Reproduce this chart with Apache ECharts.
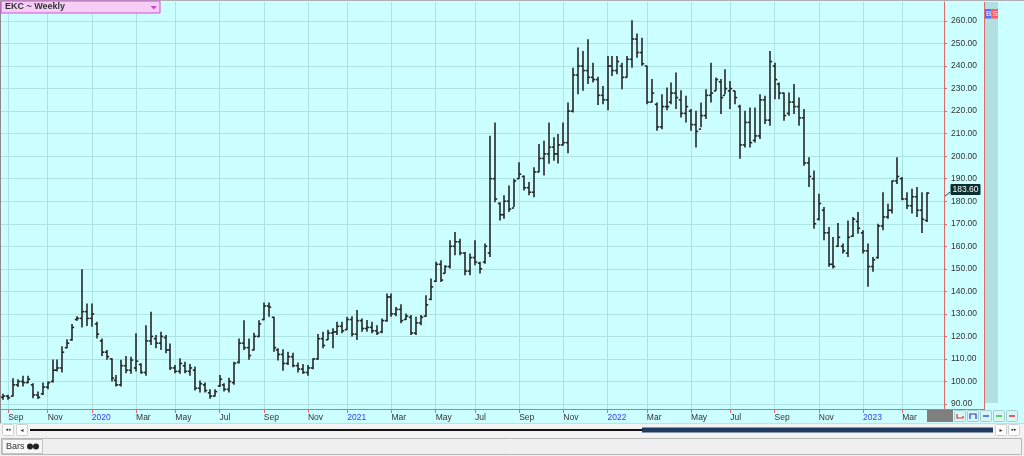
<!DOCTYPE html>
<html><head><meta charset="utf-8">
<script src="https://cdn.jsdelivr.net/npm/echarts@6/dist/echarts.min.js"></script>
<style>html,body{margin:0;padding:0;background:#fff}#c{width:1024px;height:456px}</style>
</head><body><div id="c"></div>
<script>
// Weekly OHLC bars, first bar = week ending 2019-08-30
const firstWeekUTC = [2019, 7, 30];
const emptyWeeksAfter = 3;
const opens = [
  93.0,93.5,93.5,98.5,100.0,99.5,98.5,94.0,94.5,97.5,
  100,105,106,115,118.5,127.5,128,131,128,125.5,
  118,113,110,100.5,98.5,107,105,106,107.5,104,
  118,119,117,119.5,114,106,104.5,107,104.5,105,
  97,98.5,95,93.5,98,98.5,96.5,99.5,108.5,117,
  115,114,120,127.5,133.5,128.5,114,112,108,111,
  107,105.5,104,106,110,119,118.5,121.5,122,124.5,
  123,127.5,121,127,123.5,124,122.5,122,127,137.5,
  130,132,127.5,128.5,121.5,126,129,136.5,144.5,152,
  148,151,160,162,157,149,155,152.5,153,157,
  190,179,174,180,177,190,191,186,184,193,
  199,201,204,201,205,206,220,236,240,238,
  235,234,227,225,240,238,240,235,243,252,
  246,240,224,223,213,222,224,228,225,219,
  220,214,212,218,227,229,233,227,229,229,
  222,205,215,207,209,225,216,240,232,228,
  219,224,222,217,197,190,172,176,166,152,
  160,160,157,164.5,171,166,158,151,155,169,
  173,176,189,190,181,178,182,176,171.5
];
const highs = [
  94.5,94.1,101.4,101.0,102.5,102.5,99.2,95.5,99.5,100.0,
  109.8,109.8,115.6,118.7,125.5,129.0,149.8,134.6,134.6,126.5,
  119.1,114.0,110.3,102.9,109.6,111.3,111.0,121.4,108.1,125.0,
  130.9,120.6,122.1,120.6,116.9,107.3,110.3,108.8,107.8,106.6,
  100.4,99.5,96.6,96.6,102.9,99.2,101.7,108.8,119.1,127.2,
  119.1,121.6,127.2,135.1,135.1,128.7,114.7,114.3,113.2,112.8,
  108.4,107.8,107.3,110.3,121.1,122.1,123.0,123.6,126.5,126.5,
  128.7,129.0,131.7,128.0,127.3,126.5,125.0,128.0,139.0,139.0,
  133.1,134.3,130.2,129.5,128.7,129.5,138.3,145.7,153.1,153.8,
  151.6,162.7,166.3,163.4,157.5,156.8,162.7,153.1,161.2,209.1,
  215.0,179.6,182.6,187.0,190.0,197.3,191.4,188.5,195.1,205.4,
  206.9,215.0,208.4,209.8,215.0,223.8,239.3,248.2,246.7,251.9,
  241.5,235.2,231.2,244.5,244.5,244.5,241.5,244.5,260.3,254.4,
  252.6,240.1,234.2,223.8,227.5,230.5,232.7,237.1,229.3,226.8,
  220.9,220.2,223.8,229.7,241.5,234.9,234.2,238.6,233.4,229.0,
  222.8,220.2,221.6,221.6,227.5,226.8,246.7,241.5,232.7,228.3,
  228.3,232.0,226.0,220.9,199.5,193.6,183.3,177.4,168.6,164.1,
  170.3,161.2,171.5,173.0,175.2,167.1,161.2,155.3,170.0,184.0,
  178.9,189.2,199.5,190.7,184.0,185.5,186.3,184.0,184.0
];
const lows = [
  91.9,91.9,93.3,97.5,97.8,99.2,92.6,92.2,94.0,96.6,
  99.5,104.4,104.0,114.7,118.1,127.0,124.0,124.6,124.3,119.1,
  111.3,109.6,100.0,97.8,97.8,103.7,103.4,104.4,103.4,102.5,
  116.2,114.7,114.0,112.5,105.1,103.7,103.4,103.7,102.5,96.0,
  95.1,95.1,92.3,93.3,97.5,95.5,95.1,98.5,108.0,114.0,
  109.6,113.7,119.6,127.2,128.7,113.2,109.3,104.8,107.3,106.3,
  104.0,103.4,102.5,105.4,109.6,114.7,118.4,114.7,120.6,121.4,
  122.8,120.0,118.4,122.1,122.1,121.4,120.6,121.4,126.5,128.7,
  129.0,125.8,127.3,120.6,120.6,125.0,128.7,136.1,144.2,144.2,
  147.9,150.1,156.0,156.0,147.2,147.2,151.6,147.9,152.3,155.3,
  179.6,171.5,172.2,175.2,177.4,190.0,184.8,182.6,181.8,192.9,
  191.4,196.6,198.0,196.8,204.7,201.3,219.4,227.5,229.0,232.0,
  232.7,222.7,223.1,220.4,235.6,236.4,229.7,234.9,239.3,243.7,
  240.1,223.1,223.8,211.3,212.0,220.4,223.1,220.9,217.2,215.0,
  211.3,203.9,212.8,216.5,223.8,229.0,218.7,227.5,220.9,223.1,
  198.8,203.9,203.9,206.1,207.6,214.3,213.5,225.3,225.3,215.7,
  217.9,218.7,213.5,195.8,186.3,167.8,171.5,162.7,150.9,150.1,
  159.7,156.8,155.3,164.1,165.6,156.8,142.0,148.7,154.5,167.1,
  172.2,174.5,187.7,180.4,176.6,174.5,173.0,165.9,170.8
];
const closes = [
  93.5,92.8,98.5,100.0,99.5,101.0,94.0,93.0,97.5,99.5,
  105,106,113,117,124,128,131,128,130,121,
  113,111,101.5,98.5,107,105,109.5,109,104,118,
  120,117,120,114,106,104.5,108,104.5,106,97,
  99,96,93.5,95.5,101,96.5,100,108,117,115,
  111.5,120,125.5,133.5,133,115,112,108,111,107,
  105.5,104,106,110,119,116,121.5,122,124.5,122.5,
  127.5,121,127,123.5,124,122.5,121.5,127,137.5,130,
  132,127,129,121.5,126,128.5,134,142,152,145,
  151,160,162,157,149,155,153,150,160,190,
  181,174,180,176.5,189,192,186,184,193,199,
  201,204,201,205,206,220,236,240,238,235,
  234,227,225,240,238,242,235,243,252,246,
  241,224,228,213,222,222,228,226,219,222,
  214,211,218,227,228,234,226,230,230,226,
  205,215,206,209,225,216,242,234,228,218,
  224,222,217,197,191,170,179,166,152,151,
  164,158,164,172,168,158,151,154,169,173,
  176,189,191,181,178,182,176,172,183.6
];
const lastPrice = 183.60;
const yTicks = [90,100,110,120,130,140,150,160,170,180,190,200,210,220,230,240,250,260];
const monthNames = ['Jan','Feb','Mar','Apr','May','Jun','Jul','Aug','Sep','Oct','Nov','Dec'];
const labelledMonths = [0,2,4,6,8,10];
const titleText = 'EKC ~ Weekly';

// week-ending dates for the category axis
const categories = [];
const t0 = Date.UTC(firstWeekUTC[0], firstWeekUTC[1], firstWeekUTC[2]);
for (let i = 0; i < opens.length + emptyWeeksAfter; i++) {
  categories.push(new Date(t0 + i * 7 * 86400000).toISOString().slice(0, 10));
}
function monthOf(i){ return +categories[i].slice(5,7) - 1; }
function isMarked(i){
  const m = monthOf(i);
  if (labelledMonths.indexOf(m) < 0) return false;
  return i > 0 && monthOf(i-1) !== m;
}

const RED = '#e06a6a';
const GRID = '#ade3e3';
const FONT = 'Liberation Sans';

const chart = echarts.init(document.getElementById('c'), null, {renderer:'canvas'});
const ohlc = opens.map((o,i)=>[i,o,highs[i],lows[i],closes[i]]);

const option = {
  animation:false,
  backgroundColor:'#ccffff',
  grid:{left:1,right:80,top:2,bottom:47},
  xAxis:{
    type:'category', data:categories, boundaryGap:true,
    axisLine:{show:true,lineStyle:{color:RED,width:1}},
    axisTick:{show:true,alignWithLabel:true,length:4,interval:(i)=>isMarked(i),lineStyle:{color:RED}},
    axisLabel:{show:true,interval:(i)=>isMarked(i),align:'left',margin:4,color:'#333',
      fontFamily:FONT,fontSize:8.5,hideOverlap:false,
      formatter:(v)=>{const m=+v.slice(5,7)-1; return m===0?('{y|'+v.slice(0,4)+'}'):monthNames[m];},
      rich:{y:{color:'#3a3af0',fontFamily:FONT,fontSize:8.5}}},
    splitLine:{show:true,alignWithLabel:true,interval:(i)=>isMarked(i),lineStyle:{color:GRID,width:1}}
  },
  yAxis:{
    type:'value', position:'right', min:87.78, max:268.43, scale:true,
    axisLine:{show:true,lineStyle:{color:RED,width:1}},
    axisTick:{show:true,length:3,customValues:yTicks,lineStyle:{color:RED}},
    axisLabel:{show:true,customValues:yTicks,margin:7,color:'#333',fontFamily:FONT,fontSize:8.5,
      padding:[0,0,8,0],formatter:(v)=>v.toFixed(2)},
    splitLine:{show:true,lineStyle:{color:GRID,width:1}}
  },
  series:[{
    type:'custom',
    data:ohlc,
    encode:{x:0,y:[1,2,3,4]},
    renderItem:function(params, api){
      const i = api.value(0);
      const pO = api.coord([i, api.value(1)]);
      const pH = api.coord([i, api.value(2)]);
      const pL = api.coord([i, api.value(3)]);
      const pC = api.coord([i, api.value(4)]);
      const x = Math.round(pH[0]);
      const st = {stroke:'#262626', lineWidth:1.6};
      return {type:'group', children:[
        {type:'line', shape:{x1:x,y1:pH[1],x2:x,y2:pL[1]}, style:st},
        {type:'line', shape:{x1:x-2.2,y1:pO[1],x2:x,y2:pO[1]}, style:st},
        {type:'line', shape:{x1:x,y1:pC[1],x2:x+2.2,y2:pC[1]}, style:st}
      ]};
    }
  }]
};
chart.setOption(option);

const py = chart.convertToPixel({yAxisIndex:0}, lastPrice);
function btn(x,y,w,h,fill,stroke){return {type:'rect',shape:{x:x,y:y,width:w,height:h,r:1},style:{fill:fill,stroke:stroke,lineWidth:1},z:100};}
const g = [
  // right teal strip and red separator
  {type:'rect',shape:{x:985,y:2,width:13,height:401},style:{fill:'#b2dfdf'},z:50},
  {type:'line',shape:{x1:984.5,y1:2,x2:984.5,y2:409.5},style:{stroke:RED,lineWidth:1},z:60},
  {type:'line',shape:{x1:944,y1:409.5,x2:985,y2:409.5},style:{stroke:RED,lineWidth:1},z:60},
  // frame
  {type:'line',shape:{x1:0.5,y1:0,x2:0.5,y2:423},style:{stroke:'#8a8a8a',lineWidth:1},z:60},
  {type:'line',shape:{x1:0,y1:0.5,x2:1024,y2:0.5},style:{stroke:'#b0b0b0',lineWidth:1},z:60},
  // title box
  {type:'rect',shape:{x:1,y:1,width:159,height:12},style:{fill:'#f6cdf6',stroke:'#cc55cc',lineWidth:1},z:100},
  {type:'text',x:5,y:2,style:{text:titleText,fill:'#333',font:'bold 9px "Liberation Sans"'},z:101},
  {type:'polygon',shape:{points:[[150.5,6],[157,6],[153.75,9.5]]},style:{fill:'#cc44cc'},z:101},
  // B / S badges
  {type:'rect',shape:{x:985,y:9,width:6.5,height:9.5},style:{fill:'#5b6bff'},z:100},
  {type:'rect',shape:{x:991.5,y:9,width:6.5,height:9.5},style:{fill:'#ff5d5d'},z:100},
  {type:'text',x:986,y:9.5,style:{text:'B',fill:'#fff',font:'8px "Liberation Sans"'},z:101},
  {type:'text',x:992.5,y:9.5,style:{text:'S',fill:'#fff',font:'8px "Liberation Sans"'},z:101},
  // last price tag
  {type:'line',shape:{x1:945,y1:py+3,x2:950,y2:py-1},style:{stroke:'#2a4040',lineWidth:1},z:100},
  {type:'rect',shape:{x:950.5,y:py-9,width:30,height:11,r:1},style:{fill:'#0b2f30'},z:100},
  {type:'text',x:965.5,y:py-3.5,style:{text:lastPrice.toFixed(2),fill:'#fff',font:'8.5px "Liberation Sans"',align:'center',verticalAlign:'middle'},z:101},
  // bottom-right gray box and tool buttons
  {type:'rect',shape:{x:927,y:410,width:26,height:12},style:{fill:'#7f7f7f'},z:100},
  btn(954.5,410.5,11,11,'#d9f5f5','#9fcfcf'),
  btn(967.5,410.5,11,11,'#d9f5f5','#9fcfcf'),
  btn(980.5,410.5,11,11,'#d9f5f5','#9fcfcf'),
  btn(993.5,410.5,11,11,'#d9f5f5','#9fcfcf'),
  btn(1006.5,410.5,11,11,'#d9f5f5','#9fcfcf'),
  {type:'polyline',shape:{points:[[957,414],[957,418],[963,418],[963,416]]},style:{stroke:'#e03030',lineWidth:1.2,fill:null},z:101},
  {type:'polyline',shape:{points:[[970,419],[970,414],[976,414],[976,419]]},style:{stroke:'#2040d0',lineWidth:1.2,fill:null},z:101},
  {type:'line',shape:{x1:983,y1:416,x2:989,y2:416},style:{stroke:'#2060e0',lineWidth:1.5},z:101},
  {type:'line',shape:{x1:996,y1:416,x2:1002,y2:416},style:{stroke:'#30c030',lineWidth:1.5},z:101},
  {type:'line',shape:{x1:1009,y1:416,x2:1015,y2:416},style:{stroke:'#e03030',lineWidth:1.5},z:101},
  // scroll row
  {type:'rect',shape:{x:0,y:423,width:1024,height:14},style:{fill:'#f3f3f3'},z:90},
  {type:'line',shape:{x1:0,y1:423.5,x2:1024,y2:423.5},style:{stroke:'#d8d8d8',lineWidth:1},z:91},
  btn(2.5,424.5,11,11,'#ffffff','#d0d0d0'),
  btn(16.5,424.5,11,11,'#ffffff','#d0d0d0'),
  {type:'text',x:8,y:430,style:{text:'◂◂',fill:'#333',font:'5px "DejaVu Sans"',align:'center',verticalAlign:'middle'},z:101},
  {type:'text',x:22,y:430,style:{text:'◂',fill:'#333',font:'6px "DejaVu Sans"',align:'center',verticalAlign:'middle'},z:101},
  {type:'rect',shape:{x:30,y:429,width:613,height:2},style:{fill:'#111'},z:100},
  {type:'rect',shape:{x:642,y:427.5,width:351,height:5},style:{fill:'#1f3b62'},z:100},
  btn(995.5,424.5,11,11,'#ffffff','#d0d0d0'),
  btn(1008.5,424.5,11,11,'#ffffff','#d0d0d0'),
  {type:'text',x:1001,y:430,style:{text:'▸',fill:'#333',font:'6px "DejaVu Sans"',align:'center',verticalAlign:'middle'},z:101},
  {type:'text',x:1014,y:430,style:{text:'▸▸',fill:'#333',font:'5px "DejaVu Sans"',align:'center',verticalAlign:'middle'},z:101},
  // bottom tab row
  {type:'rect',shape:{x:0,y:437,width:1024,height:19},style:{fill:'#f0f0f0'},z:90},
  {type:'rect',shape:{x:1.5,y:438.5,width:1020,height:16},style:{fill:'#f0f0f0',stroke:'#b8b8b8',lineWidth:1},z:91},
  {type:'rect',shape:{x:2.5,y:439.5,width:40,height:14},style:{fill:'#f7f7f7',stroke:'#c4c4c4',lineWidth:1},z:92},
  {type:'text',x:6,y:446.5,style:{text:'Bars',fill:'#333',font:'9px "Liberation Sans"',verticalAlign:'middle'},z:101},
  {type:'circle',shape:{cx:30,cy:446.5,r:3},style:{fill:'#222'},z:101},
  {type:'circle',shape:{cx:36,cy:446.5,r:3},style:{fill:'#222'},z:101}
];
chart.setOption({graphic:g});
</script>
</body></html>
